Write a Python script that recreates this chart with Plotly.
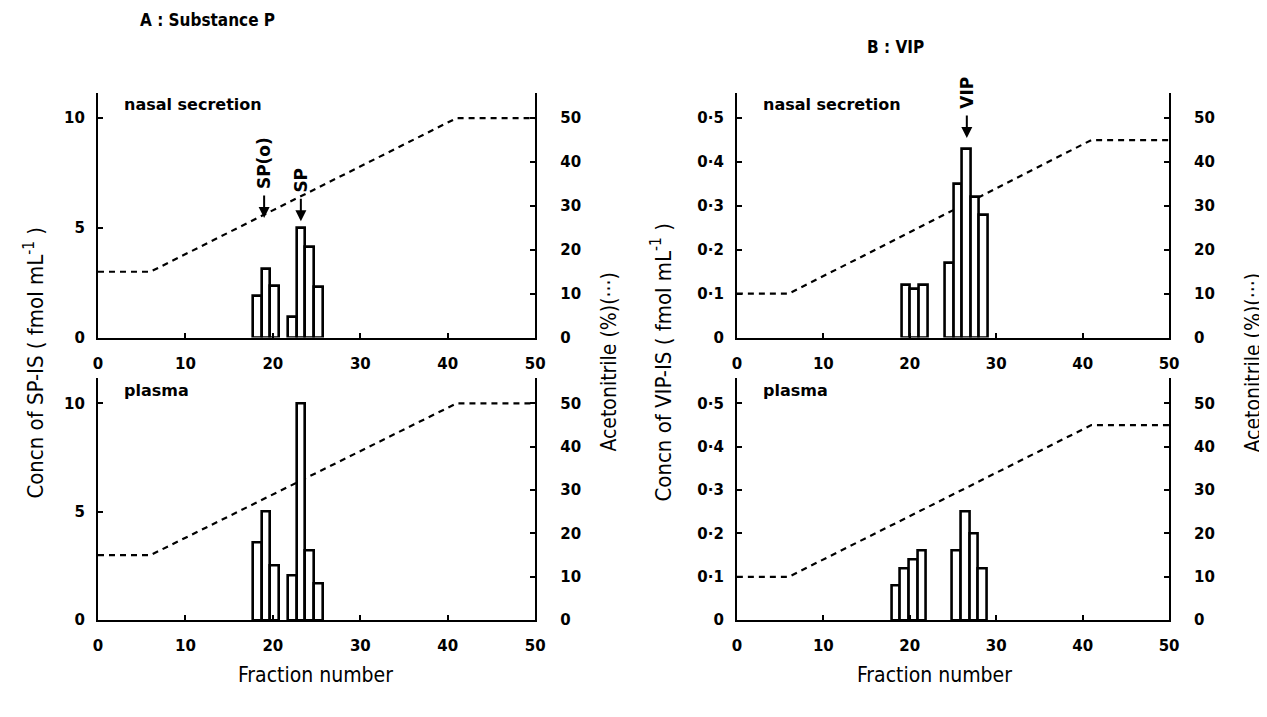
import plotly.graph_objects as go

# ---------------- data ----------------
sp_nasal_fraction = [18, 19, 20, 22, 23, 24, 25]
sp_nasal_conc = [1.9, 3.15, 2.35, 0.95, 5.0, 4.15, 2.3]

sp_plasma_fraction = [18, 19, 20, 22, 23, 24, 25]
sp_plasma_conc = [3.6, 5.0, 2.5, 2.05, 10.0, 3.2, 1.7]

vip_nasal_fraction = [19, 20, 21, 24, 25, 26, 27, 28]
vip_nasal_conc = [0.12, 0.11, 0.12, 0.17, 0.35, 0.43, 0.32, 0.28]

vip_plasma_fraction = [18, 19, 20, 21, 25, 26, 27, 28]
vip_plasma_conc = [0.08, 0.12, 0.14, 0.16, 0.16, 0.25, 0.20, 0.12]

gradient_fraction = [0, 6, 41, 50]
sp_acetonitrile = [15, 15, 50, 50]
vip_acetonitrile = [10, 10, 45, 45]

x_ticks = [0, 10, 20, 30, 40, 50]
acn_ticks = [0, 10, 20, 30, 40, 50]
sp_ticks = [0, 5, 10]
vip_ticks = [0, 0.1, 0.2, 0.3, 0.4, 0.5]
vip_ticklabels = ["0", "0·1", "0·2", "0·3", "0·4", "0·5"]

# ---------------- layout geometry ----------------
OFF = 8                      # default page body margin
W, H = 1267 - OFF, 717 - OFF


def px(x):
    x = x - 3 + 0.0103 * (x - 97)
    return (x - OFF) / W


def py(y):
    y = y + 2 + 0.0114 * (y - 92)
    return 1 - (y - OFF) / H


xA = [px(97), px(535)]
xB = [px(737), px(1170)]
y_top = [py(337), py(92)]
y_bot = [py(620), py(378)]
SP_MAX = 11.15
VIP_MAX = 0.5575
ACN_MAX = 55.75

TICKFONT = dict(family="DejaVu Sans", size=15, color="black", weight="bold")
LABFONT = dict(family="DejaVu Sans Condensed", size=21, color="black")
CONCFONT = dict(family="DejaVu Sans Condensed", size=22, color="black")

fig = go.Figure()

panels = [
    ("x", "y", "y5", sp_nasal_fraction, sp_nasal_conc, sp_acetonitrile, -0.3),
    ("x2", "y2", "y6", sp_plasma_fraction, sp_plasma_conc, sp_acetonitrile, -0.3),
    ("x3", "y3", "y7", vip_nasal_fraction, vip_nasal_conc, vip_acetonitrile, 0.05),
    ("x4", "y4", "y8", vip_plasma_fraction, vip_plasma_conc, vip_acetonitrile, -0.1),
]

for xa, ya, yc, fr, conc, acn, off in panels:
    fig.add_trace(go.Scatter(
        x=gradient_fraction, y=acn, xaxis=xa, yaxis=ya, mode="lines",
        line=dict(color="black", width=2.2, dash="6px,5px"),
        showlegend=False, hoverinfo="skip"))
    fig.add_trace(go.Bar(
        x=fr, y=conc, xaxis=xa, yaxis=yc, width=1.0, offset=off,
        marker=dict(color="white", line=dict(color="black", width=2.6)),
        showlegend=False))


def xaxis_def(domain, anchor):
    return dict(domain=domain, anchor=anchor, range=[0, 50], tickvals=x_ticks,
                ticks="inside", ticklen=5, tickwidth=2, tickcolor="black",
                showline=True, linecolor="black", linewidth=2, showgrid=False,
                zeroline=False, tickfont=TICKFONT, ticklabelstandoff=11,
                fixedrange=True)


def acn_axis(domain, anchor):
    return dict(domain=domain, anchor=anchor, side="right", range=[0, ACN_MAX],
                tickvals=acn_ticks, ticks="inside", ticklen=5, tickwidth=2,
                tickcolor="black", showline=True, linecolor="black", linewidth=2,
                showgrid=False, zeroline=False, tickfont=TICKFONT,
                ticklabelstandoff=20)


def conc_axis(over, anchor, rng, tv, tt=None):
    d = dict(overlaying=over, anchor=anchor, side="left", range=[0, rng],
             tickvals=tv, ticks="inside", ticklen=5, tickwidth=2,
             tickcolor="black", showline=True, linecolor="black", linewidth=2,
             showgrid=False, zeroline=False, tickfont=TICKFONT,
             ticklabelstandoff=8)
    if tt is not None:
        d["ticktext"] = tt
    return d


fig.update_layout(
    width=W, height=H, margin=dict(l=0, r=0, t=0, b=0),
    paper_bgcolor="white", plot_bgcolor="rgba(0,0,0,0)",
    bargap=0,
    xaxis=xaxis_def(xA, "y"),
    xaxis2=xaxis_def(xA, "y2"),
    xaxis3=xaxis_def(xB, "y3"),
    xaxis4=xaxis_def(xB, "y4"),
    yaxis=acn_axis(y_top, "x"),
    yaxis2=acn_axis(y_bot, "x2"),
    yaxis3=acn_axis(y_top, "x3"),
    yaxis4=acn_axis(y_bot, "x4"),
    yaxis5=conc_axis("y", "x", SP_MAX, sp_ticks),
    yaxis6=conc_axis("y2", "x2", SP_MAX, sp_ticks),
    yaxis7=conc_axis("y3", "x3", VIP_MAX, vip_ticks, vip_ticklabels),
    yaxis8=conc_axis("y4", "x4", VIP_MAX, vip_ticks, vip_ticklabels),
)

ann = []
TITLEFONT = dict(family="DejaVu Sans Condensed", size=17, color="black", weight="bold")
ann.append(dict(text="A : Substance P", x=px(207), y=py(19), xref="paper", yref="paper",
                xanchor="center", yanchor="middle", showarrow=False, font=TITLEFONT))
ann.append(dict(text="B : VIP", x=px(896), y=py(46), xref="paper", yref="paper",
                xanchor="center", yanchor="middle", showarrow=False, font=TITLEFONT))
# Panel labels
for xr, yr, txt, xv, yv in [("x", "y5", "nasal secretion", 2.8, 10.6),
                             ("x2", "y6", "plasma", 2.8, 10.6),
                             ("x3", "y7", "nasal secretion", 2.8, 0.53),
                             ("x4", "y8", "plasma", 2.8, 0.53)]:
    ann.append(dict(text=txt, x=xv, y=yv, xref=xr, yref=yr, xanchor="left",
                    yanchor="middle", showarrow=False,
                    font=dict(family="DejaVu Sans", size=16, color="black", weight="bold")))
# Peak markers
for xr, yr, txt, xv, yv in [("x", "y5", "SP(o)", 19.0, 5.45),
                             ("x", "y5", "SP", 23.2, 5.3),
                             ("x3", "y7", "VIP", 26.6, 0.455)]:
    ann.append(dict(text="", x=xv, y=yv, xref=xr, yref=yr, ax=0, ay=-24,
                    showarrow=True, arrowhead=2, arrowsize=1.1, arrowwidth=2,
                    arrowcolor="black"))
    ann.append(dict(text=txt, x=xv, y=yv, xref=xr, yref=yr, yshift=27,
                    textangle=-90, yanchor="bottom", xanchor="center", showarrow=False,
                    font=dict(family="DejaVu Sans", size=17, color="black", weight="bold")))
# Axis titles
for xp, txt, fnt in [(32, "Concn of SP-IS ( fmol mL<sup>-1</sup> )", CONCFONT),
                     (608, "Acetonitrile (%)(···)", LABFONT),
                     (661, "Concn of VIP-IS ( fmol mL<sup>-1</sup> )", CONCFONT),
                     (1254, "Acetonitrile (%)(···)", LABFONT)]:
    ann.append(dict(text=txt, x=px(xp), y=py(362), xref="paper", yref="paper",
                    xanchor="center", yanchor="middle",
                    textangle=-90, showarrow=False, font=fnt))
for xp in [315, 935]:
    ann.append(dict(text="Fraction number", x=px(xp), y=py(675), xref="paper",
                    yref="paper", xanchor="center", yanchor="middle",
                    showarrow=False, font=LABFONT))

fig.update_layout(annotations=ann)
fig.write_html("out.html")
